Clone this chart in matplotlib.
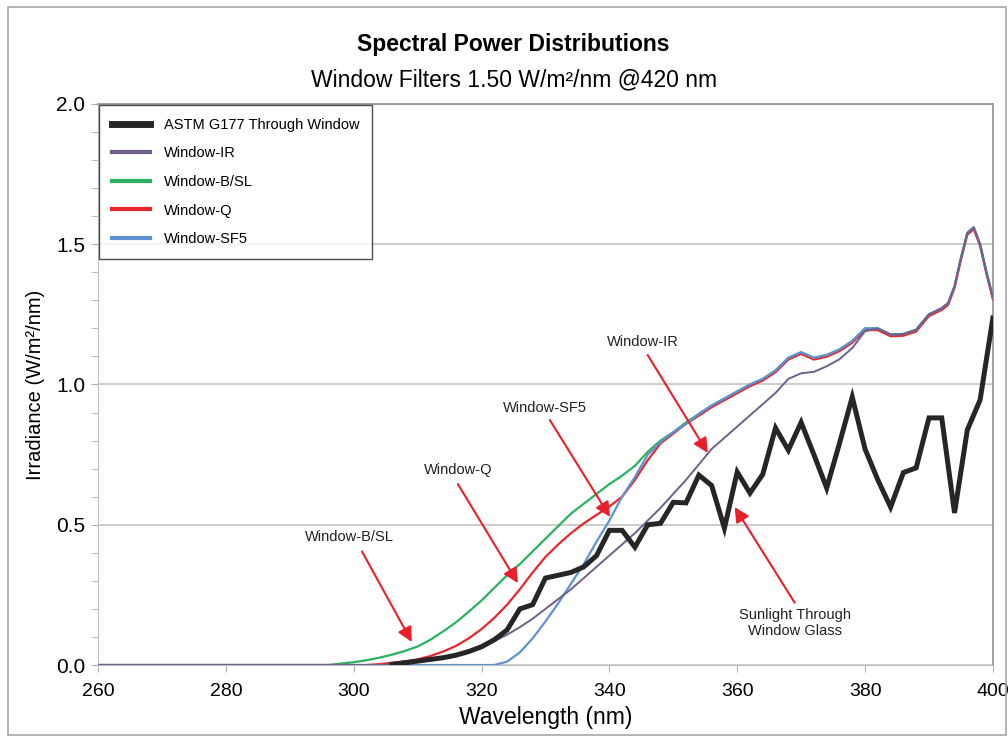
import matplotlib
matplotlib.use("Agg")
import matplotlib.pyplot as plt
from matplotlib.patches import Rectangle

# wavelength grid (nm) shared by all curves
wavelength = [260, 290, 296, 298, 300, 302, 304, 306, 308, 310, 312, 314, 316, 318,
              320, 322, 324, 326, 328, 330, 332, 334, 336, 338, 340, 342, 344, 346,
              348, 350, 352, 354, 356, 358, 360, 362, 364, 366, 368, 370, 372, 374,
              376, 378, 380, 382, 384, 386, 388, 390, 392, 393, 394, 395, 396, 397,
              398, 399, 400]

# filters converge above ~352 nm
upper_tail = [0.895, 0.925, 0.95, 0.975, 1.0, 1.02, 1.05, 1.095, 1.115, 1.095, 1.105,
              1.125, 1.155, 1.2, 1.2, 1.178, 1.18, 1.195, 1.25, 1.272, 1.29, 1.35,
              1.45, 1.54, 1.56, 1.5, 1.4, 1.31]

bsl = [0.0, 0.0, 0.0, 0.005, 0.01, 0.017, 0.026, 0.037, 0.05, 0.066, 0.09, 0.12, 0.152,
       0.19, 0.23, 0.275, 0.32, 0.36, 0.405, 0.45, 0.495, 0.54, 0.575, 0.61, 0.645,
       0.675, 0.71, 0.76, 0.8, 0.83, 0.865] + upper_tail

q = [0.0, 0.0, 0.0, 0.0, 0.0, 0.0, 0.003, 0.008, 0.013, 0.02, 0.032, 0.048, 0.068,
     0.095, 0.128, 0.168, 0.215, 0.27, 0.33, 0.385, 0.43, 0.47, 0.505, 0.535, 0.565,
     0.6, 0.66, 0.73, 0.79, 0.825, 0.86] + [v - 0.006 for v in upper_tail]

sf5 = [0.0, 0.0, 0.0, 0.0, 0.0, 0.0, 0.0, 0.0, 0.0, 0.0, 0.0, 0.0, 0.0, 0.0, 0.0,
       0.0, 0.012, 0.045, 0.095, 0.155, 0.22, 0.29, 0.36, 0.44, 0.515, 0.6, 0.67,
       0.75, 0.795, 0.83, 0.86] + upper_tail

ir = [0.0, 0.0, 0.0, 0.0, 0.0, 0.0, 0.0, 0.003, 0.007, 0.012, 0.018, 0.025, 0.035,
      0.048, 0.065, 0.085, 0.108, 0.135, 0.165, 0.2, 0.235, 0.27, 0.31, 0.35, 0.39,
      0.43, 0.47, 0.515, 0.56, 0.61, 0.66, 0.715, 0.77, 0.81, 0.85, 0.89, 0.93, 0.97,
      1.02, 1.04, 1.045, 1.065, 1.09, 1.13, 1.19] + upper_tail[14:]

# ASTM G177 through window, 2 nm steps
astm_wl = list(range(306, 401, 2))
astm = [0.002, 0.008, 0.014, 0.02, 0.026, 0.035, 0.048, 0.065, 0.09, 0.125, 0.2,
        0.215, 0.31, 0.32, 0.33, 0.35, 0.39, 0.48, 0.48, 0.42, 0.5, 0.505, 0.58, 0.578,
        0.677, 0.64, 0.488, 0.688, 0.613, 0.68, 0.845, 0.766, 0.865, 0.75, 0.631, 0.79,
        0.955, 0.77, 0.66, 0.563, 0.686, 0.703, 0.881, 0.881, 0.542, 0.838, 0.945, 1.237]

# (label, text position, arrow start, arrow tip)
callouts = [
    ("Window-B/SL", (299.4, 0.455), (301.3, 0.405), (309.1, 0.082)),
    ("Window-Q", (316.3, 0.695), (316.3, 0.645), (325.7, 0.292)),
    ("Window-SF5", (329.9, 0.916), (330.7, 0.873), (340.1, 0.528)),
    ("Window-IR", (345.3, 1.152), (346.0, 1.105), (355.4, 0.756)),
    ("Sunlight Through\nWindow Glass", (369.0, 0.15), (369.0, 0.222), (359.6, 0.563)),
]

plt.rcParams["font.family"] = ["Liberation Sans", "DejaVu Sans"]

fig = plt.figure(figsize=(10.08, 7.38), dpi=100)
ax = fig.add_axes([0.0972, 0.0989, 0.8878, 0.7602])

# outer frame around the whole figure
fig.patches.append(Rectangle((0.008, 0.004), 0.99, 0.986, transform=fig.transFigure,
                             fill=False, edgecolor="#a8a8a8", linewidth=1.2))

ax.plot(wavelength, bsl, color="#2ab25e", lw=1.6, label="Window-B/SL", zorder=3)
ax.plot(wavelength, q, color="#e8262d", lw=1.6, label="Window-Q", zorder=3)
ax.plot(wavelength, sf5, color="#5e92d2", lw=1.6, label="Window-SF5", zorder=3)
ax.plot(wavelength, ir, color="#6e6188", lw=1.4, label="Window-IR", zorder=4)
ax.plot(astm_wl, astm, color="#262626", lw=3.6, label="ASTM G177 Through Window",
        zorder=5, solid_joinstyle="miter")

red = "#e8202a"
for text, txy, start, tip in callouts:
    ax.text(txy[0], txy[1], text, ha="center", va="center", fontsize=10.5,
            color="#222222", linespacing=1.25, zorder=6)
    ax.annotate("", xy=tip, xytext=start,
                arrowprops=dict(arrowstyle="-|>", color=red, lw=1.5,
                                mutation_scale=22, shrinkA=0, shrinkB=0),
                zorder=6)

ax.set_xlim(260, 400)
ax.set_ylim(0, 2.0)
ax.set_xticks(range(260, 401, 20))
ax.set_yticks([0.0, 0.5, 1.0, 1.5, 2.0])
ax.set_yticks([i / 10 for i in range(21)], minor=True)
ax.set_yticklabels(["0.0", "0.5", "1.0", "1.5", "2.0"], fontsize=15)
for lbl in ax.get_xticklabels():
    lbl.set_fontsize(14)
ax.tick_params(axis="x", length=5, color="#b0b0b0", pad=8)
ax.tick_params(axis="y", which="both", length=5, color="#b0b0b0", pad=4)
ax.grid(axis="y", color="#c8c8c8", lw=1.3)
ax.set_axisbelow(True)
for side in ["left", "bottom"]:
    ax.spines[side].set_color("#c0c0c0")
for side in ["top", "right"]:
    ax.spines[side].set_color("#909090")
    ax.spines[side].set_linewidth(1.2)

ax.set_xlabel("Wavelength (nm)", fontsize=16.5, labelpad=4)
ax.set_ylabel("Irradiance (W/m²/nm)", fontsize=14.5, labelpad=8)

handles, labels = ax.get_legend_handles_labels()
order = [4, 3, 0, 1, 2]
leg = ax.legend([handles[i] for i in order], [labels[i] for i in order],
                loc="upper left", bbox_to_anchor=(0, 1), borderaxespad=0.1,
                fontsize=10.5, frameon=True, fancybox=False, handlelength=2.6,
                labelspacing=1.0, borderpad=0.85, handletextpad=1.0)
leg.get_frame().set_edgecolor("#222222")
leg.get_frame().set_linewidth(1.0)
leg.set_zorder(10)
for i, line in enumerate(leg.get_lines()):
    line.set_linewidth(5.0 if i == 0 else 3.0)

fig.text(0.509, 0.94, "Spectral Power Distributions", ha="center", va="center",
         fontsize=16.5, fontweight="bold")
fig.text(0.51, 0.892, "Window Filters 1.50 W/m²/nm @420 nm", ha="center",
         va="center", fontsize=16.5)

fig.savefig("out.png", dpi=100)
